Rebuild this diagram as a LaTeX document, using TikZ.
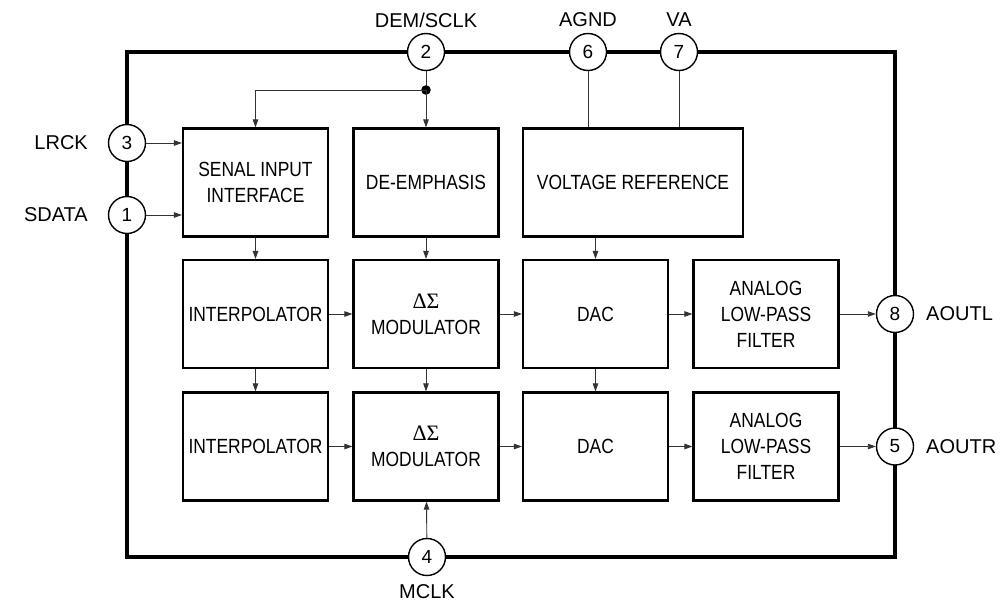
\documentclass[tikz,border=0pt]{standalone}
\usepackage{fontspec}
\setmainfont{Liberation Sans}
\newfontfamily\boxfont[FakeStretch=0.85]{Liberation Sans}
\newfontfamily\symfont{Liberation Serif}
\usetikzlibrary{arrows.meta}
\begin{document}
\begin{tikzpicture}[x=1pt,y=-1pt,
  blk/.style={draw, line width=2.2pt, minimum width=145pt, minimum height=108pt, inner sep=0pt, align=center, font=\boxfont\fontsize{20.5}{26}\selectfont},
  pin/.style={draw, circle, fill=white, line width=1.4pt, minimum size=37pt, inner sep=0pt, font=\fontsize{19}{19}\selectfont},
  lbl/.style={font=\fontsize{20}{20}\selectfont, inner sep=0pt},
  con/.style={line width=0.9pt, draw=black!80},
  arr/.style={con, -{Triangle[length=8pt,width=5.5pt]}}
]
\useasboundingbox (0,0) rectangle (1002,608);
\draw[line width=3.5pt] (127,52) rectangle (895,557);

% blocks
\node[blk] (sif) at (255.5,182.5) {SENAL INPUT\\INTERFACE};
\node[blk] (dem) at (426,182.5) {DE-EMPHASIS};
\node[blk, minimum width=220pt] (vr) at (633,182.5) {VOLTAGE REFERENCE};
\node[blk] (int1) at (255.5,314) {INTERPOLATOR};
\node[blk] (mod1) at (426,314) {{\symfont\fontsize{22}{22}\selectfont ΔΣ}\\MODULATOR};
\node[blk] (dac1) at (595.5,314) {DAC};
\node[blk] (lpf1) at (766,314) {ANALOG\\LOW-PASS\\FILTER};
\node[blk] (int2) at (255.5,446.5) {INTERPOLATOR};
\node[blk] (mod2) at (426,446.5) {{\symfont\fontsize{22}{22}\selectfont ΔΣ}\\MODULATOR};
\node[blk] (dac2) at (595.5,446.5) {DAC};
\node[blk] (lpf2) at (766,446.5) {ANALOG\\LOW-PASS\\FILTER};

% pins
\node[pin] (p2) at (426,52) {2};
\node[pin] (p6) at (588,52) {6};
\node[pin] (p7) at (679,52) {7};
\node[pin] (p3) at (127,143) {3};
\node[pin] (p1) at (127,215) {1};
\node[pin] (p8) at (895,314) {8};
\node[pin] (p5) at (895,446.5) {5};
\node[pin] (p4) at (427,557) {4};

% pin labels
\node[lbl] (l2) at (426,20) {DEM/SCLK};
\node[lbl] (l6) at (588,20) {AGND};
\node[lbl] (l7) at (679,20) {VA};
\node[lbl, anchor=east] (l3) at (88,143) {LRCK};
\node[lbl, anchor=east] (l1) at (88,215) {SDATA};
\node[lbl, anchor=west] (l8) at (926,314) {AOUTL};
\node[lbl, anchor=west] (l5) at (926,446.5) {AOUTR};
\node[lbl] (l4) at (427,592) {MCLK};

% connectors
\coordinate (j) at (426,90);
\draw[con] (p2) -- (j);
\fill (j) circle (4.8pt);
\draw[arr] (j) -| (sif.north);
\draw[arr] (j) -- (dem.north);
\draw[arr] (p3.east) -- (p3.east -| sif.west);
\draw[arr] (p1.east) -- (p1.east -| sif.west);
\draw[con] (p6) -- (p6 |- vr.north);
\draw[con] (p7) -- (p7 |- vr.north);
\draw[arr] (vr.south -| dac1.north) -- (dac1.north);

\draw[arr] (sif) -- (int1);
\draw[arr] (dem) -- (mod1);
\draw[arr] (int1) -- (mod1);
\draw[arr] (mod1) -- (dac1);
\draw[arr] (dac1) -- (lpf1);
\draw[arr] (lpf1) -- (p8);
\draw[arr] (int1) -- (int2);
\draw[arr] (mod1) -- (mod2);
\draw[arr] (dac1) -- (dac2);
\draw[arr] (int2) -- (mod2);
\draw[arr] (mod2) -- (dac2);
\draw[arr] (dac2) -- (lpf2);
\draw[arr] (lpf2) -- (p5);
\draw[arr] (p4) -- (mod2);
\end{tikzpicture}
\end{document}
